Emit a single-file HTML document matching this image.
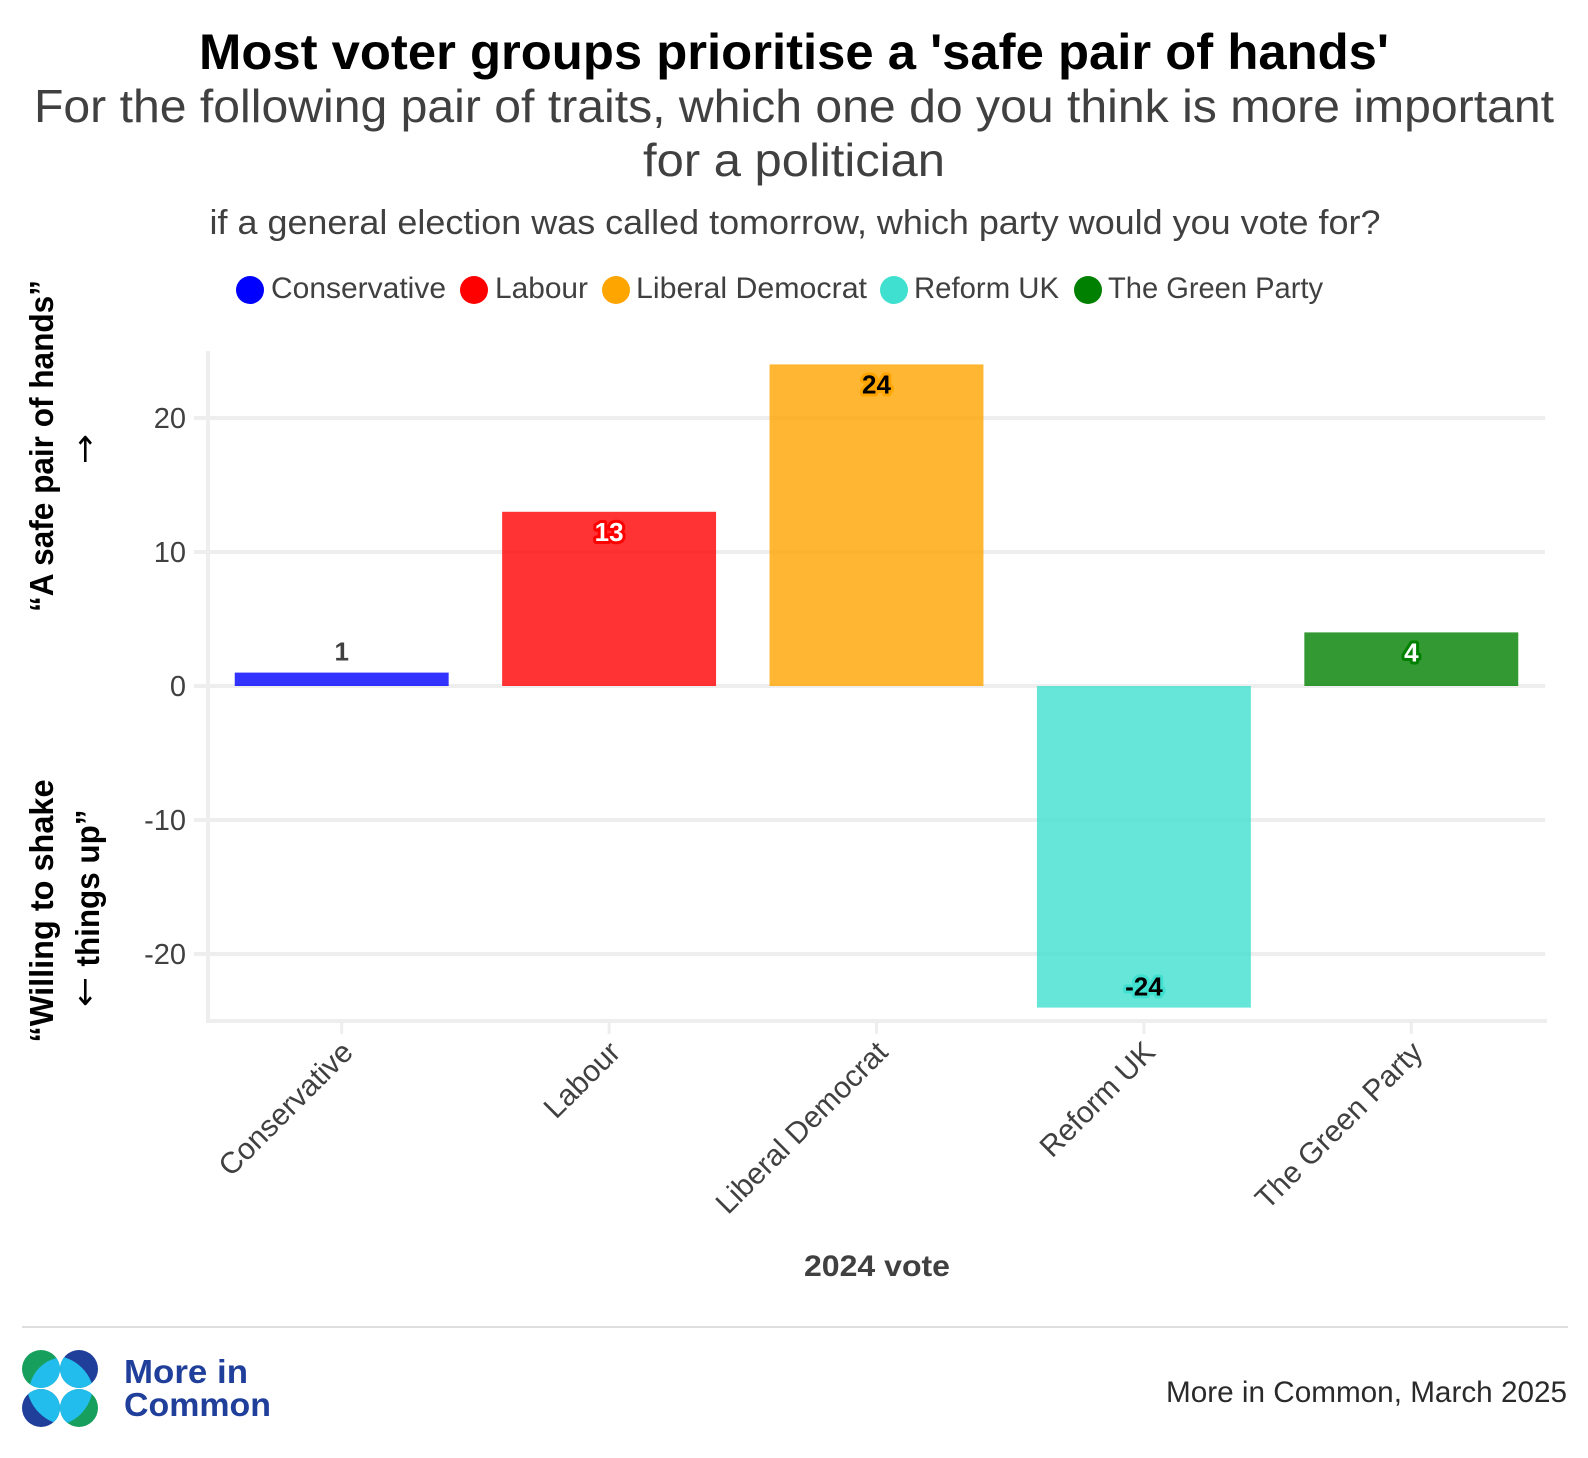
<!DOCTYPE html>
<html lang="en">
<head>
<meta charset="utf-8">
<title>Most voter groups prioritise a 'safe pair of hands'</title>
<style>
html,body{margin:0;padding:0;background:#fff;width:1588px;height:1458px;overflow:hidden}
svg{display:block}
text{font-family:"Liberation Sans",sans-serif}
</style>
</head>
<body>
<svg id="chart" xmlns="http://www.w3.org/2000/svg" width="1588" height="1458" viewBox="0 0 1588 1458">
  <rect width="1588" height="1458" fill="#ffffff"/>
  <text x="794" y="69" text-anchor="middle" font-size="50" font-weight="700" fill="#000" textLength="1190" lengthAdjust="spacingAndGlyphs">Most voter groups prioritise a 'safe pair of hands'</text>
  <text x="794" y="122" text-anchor="middle" font-size="46" fill="#404040" textLength="1520" lengthAdjust="spacingAndGlyphs">For the following pair of traits, which one do you think is more important</text>
  <text x="794" y="176" text-anchor="middle" font-size="46" fill="#404040" textLength="302" lengthAdjust="spacingAndGlyphs">for a politician</text>
  <text x="795" y="234" text-anchor="middle" font-size="34" fill="#404040" textLength="1171" lengthAdjust="spacingAndGlyphs">if a general election was called tomorrow, which party would you vote for?</text>

  <g id="legend"></g>
  <g id="grid"></g>
  <g id="y-axis"></g>
  <g id="x-axis"></g>
  <g id="bars"></g>
  <g id="labels"></g>

  <text transform="translate(53 446) rotate(-90)" text-anchor="middle" font-size="33" font-weight="700" fill="#000" textLength="332" lengthAdjust="spacingAndGlyphs">“A safe pair of hands”</text>
  <text transform="translate(95 449) rotate(-90)" text-anchor="middle" font-size="31" fill="#000" textLength="30" lengthAdjust="spacingAndGlyphs" style="font-family:'DejaVu Sans',sans-serif">→</text>
  <text transform="translate(53 911) rotate(-90)" text-anchor="middle" font-size="33" font-weight="700" fill="#000" textLength="263" lengthAdjust="spacingAndGlyphs">“Willing to shake</text>
  <text transform="translate(99 888) rotate(-90)" text-anchor="middle" font-size="33" font-weight="700" fill="#000" textLength="157" lengthAdjust="spacingAndGlyphs">things up”</text>
  <text transform="translate(95 992) rotate(-90)" text-anchor="middle" font-size="31" fill="#000" textLength="30" lengthAdjust="spacingAndGlyphs" style="font-family:'DejaVu Sans',sans-serif">←</text>

  <text x="877" y="1276" text-anchor="middle" font-size="30" font-weight="700" fill="#404040" textLength="146" lengthAdjust="spacingAndGlyphs">2024 vote</text>

  <rect x="22" y="1326" width="1546" height="2" fill="#dedede"/>

  <g>
    <defs>
      <clipPath id="c1"><circle cx="41" cy="1369" r="19"/></clipPath>
      <clipPath id="c2"><circle cx="79" cy="1369" r="19"/></clipPath>
      <clipPath id="c3"><circle cx="41" cy="1408" r="19"/></clipPath>
      <clipPath id="c4"><circle cx="79" cy="1408" r="19"/></clipPath>
    </defs>
    <circle cx="41" cy="1369" r="19" fill="#17a05d"/>
    <circle cx="79" cy="1369" r="19" fill="#1f3f9a"/>
    <circle cx="41" cy="1408" r="19" fill="#1f3f9a"/>
    <circle cx="79" cy="1408" r="19" fill="#17a05d"/>
    <circle cx="65" cy="1393" r="36" fill="#22bdec" clip-path="url(#c1)"/>
    <circle cx="52.5" cy="1397.3" r="41.7" fill="#22bdec" clip-path="url(#c2)"/>
    <circle cx="69.8" cy="1382.3" r="43.3" fill="#22bdec" clip-path="url(#c3)"/>
    <circle cx="52.2" cy="1385.3" r="40.5" fill="#22bdec" clip-path="url(#c4)"/>
  </g>
  <text x="124" y="1383" font-size="33" font-weight="700" fill="#1f3f9a" textLength="124" lengthAdjust="spacingAndGlyphs">More in</text>
  <text x="124" y="1416" font-size="33" font-weight="700" fill="#1f3f9a" textLength="147" lengthAdjust="spacingAndGlyphs">Common</text>
  <text x="1166" y="1402" font-size="30" fill="#2a2a2a" textLength="401" lengthAdjust="spacingAndGlyphs">More in Common, March 2025</text>
</svg>
<script>
const categories = ['Conservative', 'Labour', 'Liberal Democrat', 'Reform UK', 'The Green Party'];
const seriesValues = [1, 13, 24, -24, 4];
const seriesColors = ['#0000ff', '#ff0000', '#ffa500', '#40e0d0', '#008000'];
const labelColors = ['#404040', '#ffffff', '#000000', '#000000', '#ffffff'];
const yTicks = [20, 10, 0, -10, -20];

const NS = 'http://www.w3.org/2000/svg';
const plotLeft = 208, plotRight = 1545, plotBottom = 1021, plotTop = 351;
const yZero = 686, pxPerUnit = 13.4;
const band = (plotRight - plotLeft) / categories.length;
const barWidth = band * 0.8;
function yScale(v) { return yZero - v * pxPerUnit; }
function xCenter(i) { return plotLeft + band * (i + 0.5); }
function make(tag, parentId, attrs) {
  const el = document.createElementNS(NS, tag);
  for (const k in attrs) el.setAttribute(k, attrs[k]);
  document.getElementById(parentId).appendChild(el);
  return el;
}

yTicks.forEach(function (t) {
  const line = make('line', 'grid', { x1: 194, x2: plotRight, y1: yScale(t), y2: yScale(t), stroke: '#eeeeee', 'stroke-width': 4 });
  
  
  const label = make('text', 'y-axis', { x: 186, y: yScale(t) + 10, 'text-anchor': 'end', 'font-size': 29, fill: '#404040' });
  
  
  label.textContent = String(t);
});

const yAxisLine = make('line', 'y-axis', { x1: plotLeft, x2: plotLeft, y1: plotTop, y2: plotBottom + 2, stroke: '#eeeeee', 'stroke-width': 4 });


const xAxisLine = make('line', 'x-axis', { x1: plotLeft, x2: plotRight + 2, y1: plotBottom, y2: plotBottom, stroke: '#eeeeee', 'stroke-width': 4 });



categories.forEach(function (c, i) {
  const cx = xCenter(i);
  const tick = make('line', 'x-axis', { x1: cx, x2: cx, y1: plotBottom, y2: plotBottom + 13, stroke: '#eeeeee', 'stroke-width': 3 });
  
  
  const tl = make('text', 'x-axis', { transform: 'translate(' + (cx + 13) + ' ' + (plotBottom + 33) + ') rotate(-45)', 'text-anchor': 'end', 'font-size': 30, fill: '#404040' });
  
  
  tl.textContent = c;

  const v = seriesValues[i];
  const top = Math.min(yScale(v), yZero);
  const h = Math.abs(yScale(v) - yZero);
  const bar = make('rect', 'bars', { x: cx - barWidth / 2, y: top, width: barWidth, height: h, fill: seriesColors[i], 'fill-opacity': 0.8 });
  
  

  let labelY;
  if (v < 0) labelY = yScale(v) - 12;
  else if (h > 30) labelY = yScale(v) + 29;
  else labelY = yScale(v) - 12;
  const halo = h > 30 ? seriesColors[i] : '#ffffff';
  const val = make('text', 'labels', { x: cx, y: labelY, 'text-anchor': 'middle', 'font-size': 26, 'font-weight': 700, fill: labelColors[i], stroke: halo, 'stroke-width': 6, 'stroke-linejoin': 'round', 'paint-order': 'stroke' });
  
  
  val.textContent = String(v);
});

const legendDotX = [250, 474, 616, 894, 1088];
const legendTextX = [271, 495, 636, 914, 1108];
const legendTextWidth = [175, 93, 231, 145, 215];
categories.forEach(function (c, i) {
  const dot = make('circle', 'legend', { cx: legendDotX[i], cy: 290, r: 14, fill: seriesColors[i] });
  
  
  const t = make('text', 'legend', { x: legendTextX[i], y: 298, 'font-size': 30, fill: '#404040', textLength: legendTextWidth[i], lengthAdjust: 'spacingAndGlyphs' });
  
  
  t.textContent = c;
});
</script>
</body>
</html>
